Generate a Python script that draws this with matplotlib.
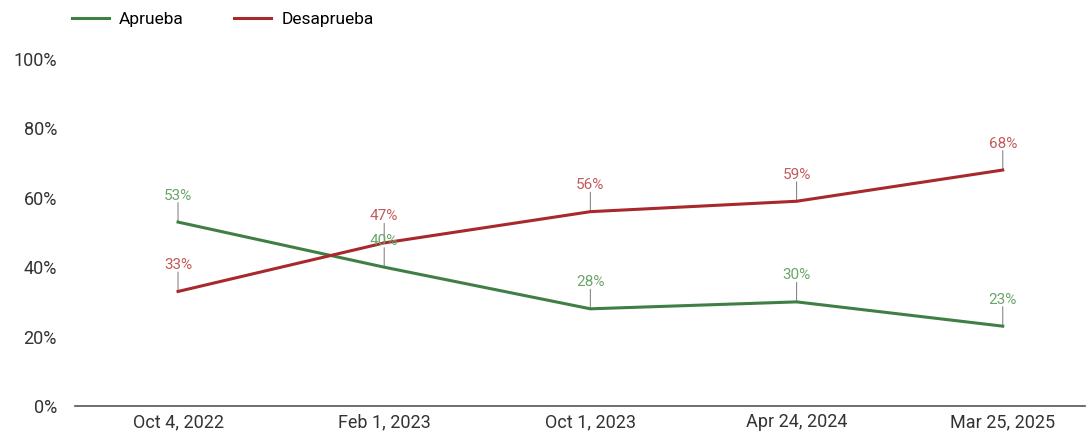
import matplotlib.pyplot as plt
from matplotlib.lines import Line2D

# ----------------------------------------------------------
# Data
# ----------------------------------------------------------
fechas = ["Oct 4, 2022", "Feb 1, 2023", "Oct 1, 2023", "Apr 24, 2024", "Mar 25, 2025"]
aprueba = [53, 40, 28, 30, 23]
desaprueba = [33, 47, 56, 59, 68]
y_ticks = [0, 20, 40, 60, 80, 100]

VERDE = "#3f7f45"
ROJO = "#a8282c"
VERDE_TXT = "#6aa56a"
ROJO_TXT = "#c25a5a"

plt.rcParams['font.family'] = ['Roboto', 'DejaVu Sans']

fig = plt.figure(figsize=(10.91, 4.37), dpi=100)
ax = fig.add_axes([0.0687, 0.071, 0.926, 0.794])

x = list(range(len(fechas)))
ax.plot(x, aprueba, color=VERDE, lw=2.2, solid_joinstyle="round", zorder=3)
ax.plot(x, desaprueba, color=ROJO, lw=2.2, solid_joinstyle="round", zorder=3)

# data labels with small leader lines
for serie, col in [(aprueba, VERDE_TXT), (desaprueba, ROJO_TXT)]:
    for xi, v in zip(x, serie):
        ax.annotate("", xy=(xi, v), xytext=(0, 14), textcoords="offset points",
                    arrowprops=dict(arrowstyle="-", color="#888888", lw=0.8,
                                    shrinkA=0, shrinkB=0), zorder=2)
        ax.annotate(f"{v}%", xy=(xi, v), xytext=(0, 14), textcoords="offset points",
                    ha="center", va="bottom", fontsize=11, color=col, zorder=4)

ax.set_xlim(-0.5, 4.4)
ax.set_ylim(0, 100)
ax.set_xticks(x)
ax.set_xticklabels(fechas, fontsize=13, color="#333333")
ax.set_yticks(y_ticks)
ax.set_yticklabels([f"{t}%" for t in y_ticks], fontsize=13, color="#333333")
ax.tick_params(axis="both", length=0)
ax.tick_params(axis="x", pad=5)
ax.tick_params(axis="y", pad=13)

for s in ["top", "right", "left"]:
    ax.spines[s].set_visible(False)
ax.spines["bottom"].set_color("#555555")
ax.spines["bottom"].set_linewidth(1.2)

handles = [Line2D([], [], color=VERDE, lw=2.2), Line2D([], [], color=ROJO, lw=2.2)]
fig.legend(handles, ["Aprueba", "Desaprueba"], loc="upper left",
           bbox_to_anchor=(0.052, 1.008), ncol=2, frameon=False, fontsize=12.5,
           handlelength=2.1, columnspacing=2.9, handletextpad=0.6)

fig.savefig("out.png", dpi=100)
